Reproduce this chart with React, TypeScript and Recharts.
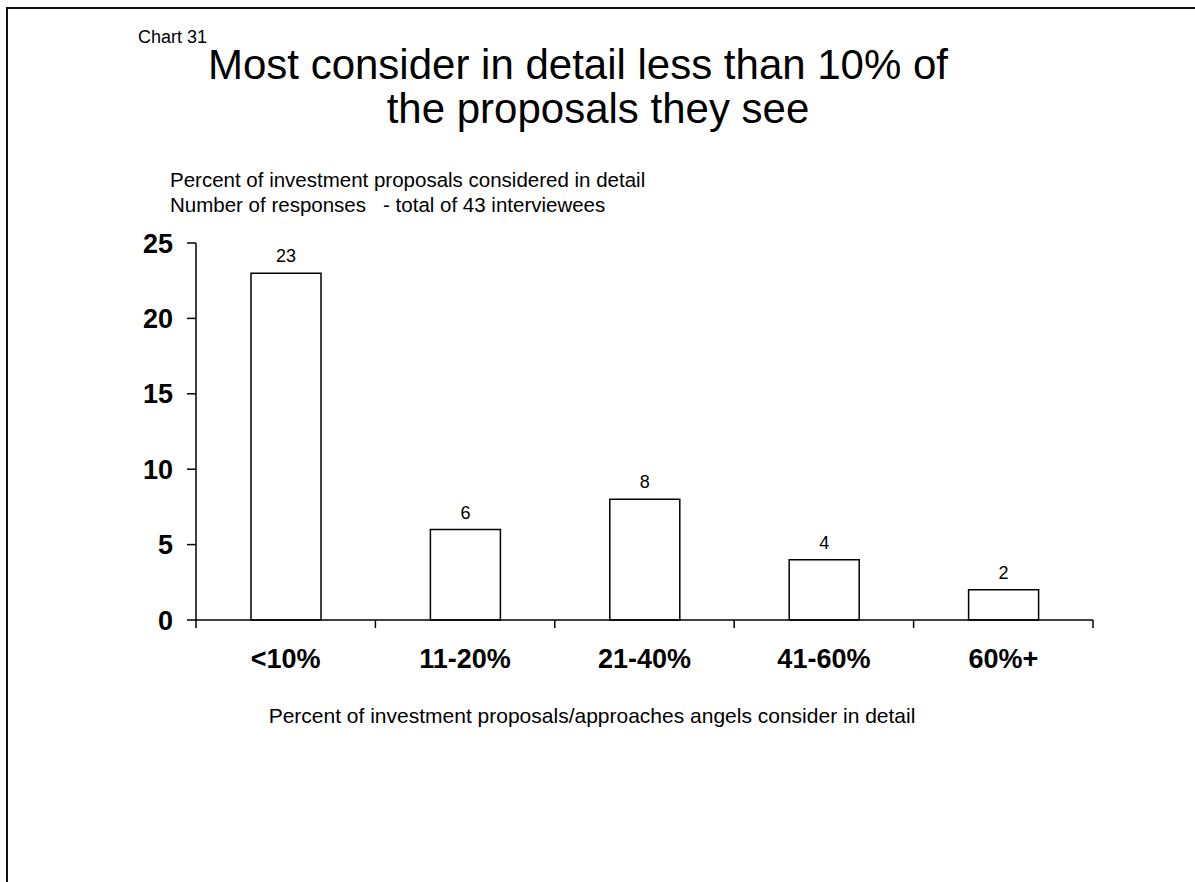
import { BarChart, Bar, XAxis, YAxis, LabelList } from 'recharts'

const categories = ['<10%', '11-20%', '21-40%', '41-60%', '60%+']
const responses = [23, 6, 8, 4, 2]
const yTicks = [0, 5, 10, 15, 20, 25]
const bandEdges = [0, 1, 2, 3, 4, 5]

const titleLines = ['Most consider in detail less than 10% of', 'the proposals they see']
const subtitleLines = [
  'Percent of investment proposals considered in detail',
  'Number of responses\u00a0\u00a0\u00a0- total of 43 interviewees',
]
const xTitle = 'Percent of investment proposals/approaches angels consider in detail'

const FONT = '"Liberation Sans", Arial, Helvetica, sans-serif'

const data = categories.map((name, i) => ({ name, value: responses[i], slot: i + 0.5 }))

// draws nothing, so only the tick line of the boundary axis shows
const NoLabel = () => <g />

export default function App() {
  return (
    <div style={{ position: 'absolute', left: 0, top: 0, width: 1195, height: 882, background: '#fff', overflow: 'hidden', fontFamily: FONT }}>
      <div
        style={{
          position: 'absolute',
          left: 6,
          top: 7,
          width: 1260,
          height: 960,
          borderLeft: '2px solid #111',
          borderTop: '2px solid #111',
        }}
      />

      <div style={{ position: 'absolute', left: 0, top: 0 }}>
        <BarChart
          width={1195}
          height={882}
          data={data}
          margin={{ top: 243, right: 102, bottom: 201, left: 136 }}
          barSize={70}
        >
          {/* boundary ticks between the categories, drawn on the plot's bottom edge */}
          <XAxis
            xAxisId="a"
            type="number"
            dataKey="slot"
            domain={[0, 5]}
            ticks={bandEdges}
            interval={0}
            height={1}
            tick={NoLabel}
            tickSize={8}
            axisLine={{ stroke: '#000', strokeWidth: 1.5 }}
            tickLine={{ stroke: '#000', strokeWidth: 1.5 }}
          />
          <XAxis
            xAxisId="b"
            dataKey="name"
            height={60}
            axisLine={false}
            tickLine={false}
            tickSize={8}
            tickMargin={20}
            interval={0}
            tick={{ fill: '#000', fontSize: 27, fontWeight: 'bold', fontFamily: FONT }}
          />
          <YAxis
            width={60}
            domain={[0, 25]}
            ticks={yTicks}
            interval={0}
            tickSize={9}
            tickMargin={14}
            axisLine={{ stroke: '#000', strokeWidth: 1.5 }}
            tickLine={{ stroke: '#000', strokeWidth: 1.5 }}
            tick={{ fill: '#000', fontSize: 27, fontWeight: 'bold', fontFamily: FONT }}
          />
          <Bar
            xAxisId="b"
            dataKey="value"
            fill="#fff"
            stroke="#000"
            strokeWidth={1.5}
            isAnimationActive={false}
          >
            <LabelList
              dataKey="value"
              position="top"
              offset={11}
              fill="#000"
              fontSize={18}
              fontFamily={FONT}
            />
          </Bar>
        </BarChart>
      </div>

      <svg
        width={1195}
        height={882}
        style={{ position: 'absolute', left: 0, top: 0, pointerEvents: 'none' }}
        fontFamily={FONT}
        fill="#000"
      >
        <text x={138} y={43} fontSize={18}>Chart 31</text>
        <text x={578} y={79} fontSize={42} textAnchor="middle">{titleLines[0]}</text>
        <text x={598} y={123} fontSize={42} textAnchor="middle">{titleLines[1]}</text>
        <text x={170} y={187} fontSize={20.5}>{subtitleLines[0]}</text>
        <text x={170} y={212} fontSize={20.5}>{subtitleLines[1]}</text>
        <text x={592} y={723} fontSize={21} textAnchor="middle">{xTitle}</text>
      </svg>
    </div>
  )
}
